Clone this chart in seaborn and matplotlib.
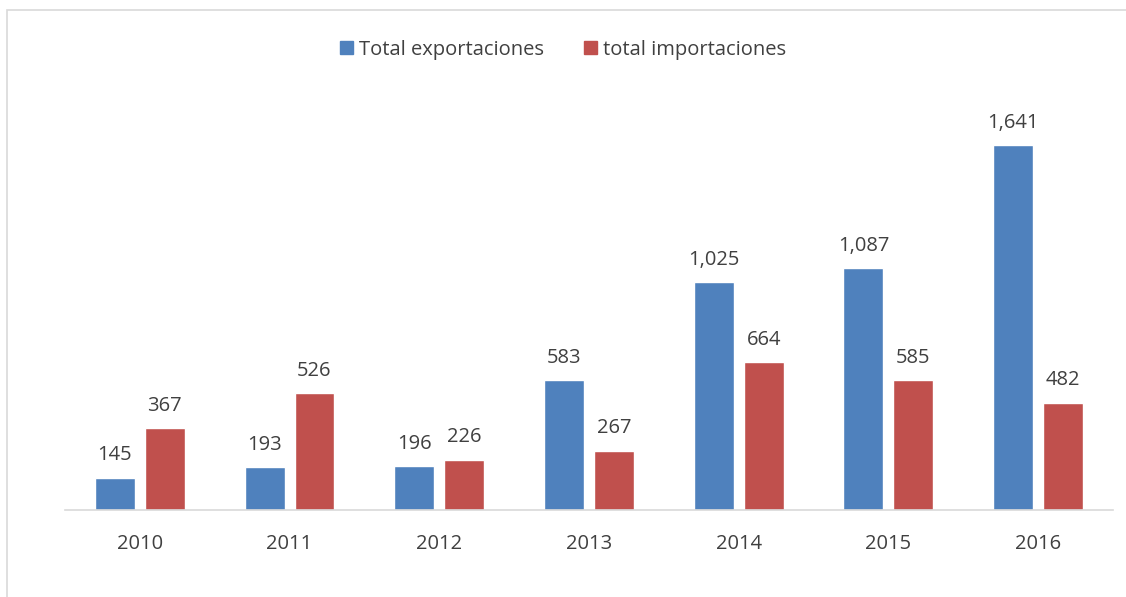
import seaborn as sns
import matplotlib.pyplot as plt
import pandas as pd
from matplotlib.patches import Rectangle

# datos
anios = ["2010", "2011", "2012", "2013", "2014", "2015", "2016"]
exportaciones = [145, 193, 196, 583, 1025, 1087, 1641]
importaciones = [367, 526, 226, 267, 664, 585, 482]
series = ["Total exportaciones", "total importaciones"]
colores = ["#4F81BD", "#C0504D"]

datos = pd.DataFrame({
    "anio": anios * 2,
    "valor": exportaciones + importaciones,
    "serie": [series[0]] * len(anios) + [series[1]] * len(anios),
})

sns.set_style("white")
plt.rcParams["font.family"] = ["Open Sans", "DejaVu Sans"]
gris = "#404040"

fig = plt.figure(figsize=(11.26, 5.97), dpi=100)
ax = fig.add_axes([0.0577, 0.1457, 0.9307, 0.67])

sns.barplot(data=datos, x="anio", y="valor", hue="serie", palette=colores,
            width=0.667, gap=0.2, ax=ax, legend=False, saturation=1)

for cont in ax.containers:
    ax.bar_label(cont, labels=[f"{v:,.0f}" for v in cont.datavalues],
                 padding=9, fontsize=14.5, color=gris)

ax.set_ylim(0, 1800)
ax.set_xlim(-0.5, len(anios) - 0.5)
ax.set_yticks([])
ax.set_xlabel("")
ax.set_ylabel("")
for lado in ["top", "right", "left"]:
    ax.spines[lado].set_visible(False)
ax.spines["bottom"].set_color("#D9D9D9")
ax.spines["bottom"].set_linewidth(1.2)
ax.tick_params(axis="x", length=0, labelsize=14.5, labelcolor=gris, pad=17)

# leyenda arriba
manijas = [Rectangle((0, 0), 1, 1, color=c) for c in colores]
fig.legend(manijas, series, loc="center", bbox_to_anchor=(0.5, 0.917), ncol=2,
           frameon=False, fontsize=14.5, handlelength=0.65, handleheight=0.65,
           handletextpad=0.3, columnspacing=2.0, labelcolor=gris)

# borde del grafico
fig.patches.append(Rectangle((7 / 1126, -0.1), 1.2, 1 - 10 / 597 + 0.1,
                             transform=fig.transFigure, fill=False,
                             edgecolor="#D9D9D9", linewidth=1.2))

fig.savefig("out.png", dpi=100)
